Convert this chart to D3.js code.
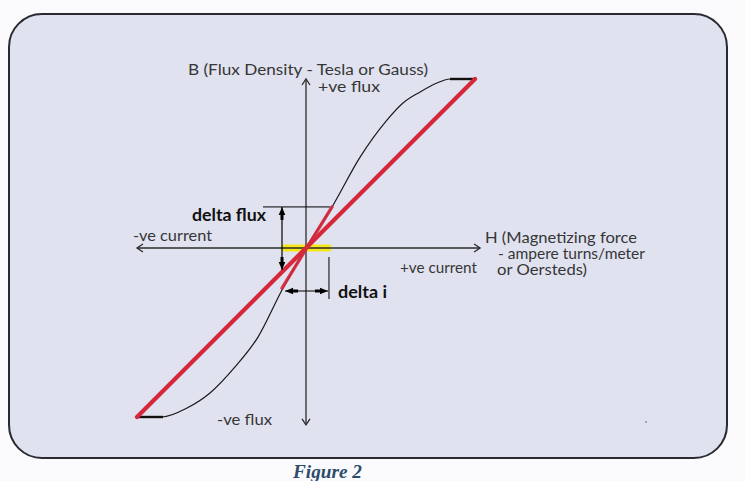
<!DOCTYPE html>
<html>
<head>
<meta charset="utf-8">
<script src="https://cdn.jsdelivr.net/npm/d3@7"></script>
<style>
  html, body { margin: 0; padding: 0; background: #fbfbfd; }
  svg { display: block; }
</style>
</head>
<body>
<svg id="chart" width="745" height="481"></svg>
<script>
// ---- data (normalised H and B, -1..1) ----
const curveH = [-1, -0.852, -0.704, -0.568, -0.420, -0.284, -0.142, 0, 0.154, 0.320, 0.479, 0.574, 0.675, 0.775, 0.852, 1];
const curveB = [-1, -1, -0.947, -0.858, -0.704, -0.527, -0.249, 0, 0.243, 0.538, 0.757, 0.858, 0.923, 0.976, 1, 1];
const saturationH = [[0.852, 1], [-1, -0.846]];
const saturationB = [1, -1];
const mainLineH = [-1, 1];
const mainLineB = [-1, 1];
const deltaLineH = [-0.142, 0.154];
const deltaLineB = [-0.237, 0.243];
const deltaFluxB = [0.243, -0.13];
const deltaIH = [-0.124, 0.130];
const yellowH = [-0.142, 0.148];
const axisH = [-1, 1.03];
const axisB = [1.0, -1.047];
const labels = {
  bAxis: "B (Flux Density - Tesla or Gauss)",
  posFlux: "+ve flux",
  negFlux: "-ve flux",
  negCurrent: "-ve current",
  posCurrent: "+ve current",
  hAxis: ["H (Magnetizing force", "- ampere turns/meter", "or Oersteds)"],
  deltaFlux: "delta flux",
  deltaI: "delta i",
  caption: "Figure 2"
};

const svg = d3.select("#chart");
const x = d3.scaleLinear().domain([-1, 1]).range([137, 475]);
const y = d3.scaleLinear().domain([-1, 1]).range([417, 79]);

// frame
svg.append("rect").attr("x", 9).attr("y", 14).attr("width", 718).attr("height", 444)
  .attr("rx", 33).attr("ry", 33)
  .attr("fill", "#e0e2f0").attr("stroke", "#2a2a30").attr("stroke-width", 2);

const line = d3.line().x(d => x(d[0])).y(d => y(d[1]));

// yellow band
svg.append("line")
  .attr("x1", x(yellowH[0])).attr("x2", x(yellowH[1]))
  .attr("y1", y(0)).attr("y2", y(0))
  .attr("stroke", "#f5e61a").attr("stroke-width", 7);

// axes
const axisColor = "#2b2b2b";
svg.append("line").attr("x1", x(axisH[0])).attr("x2", x(axisH[1])).attr("y1", y(0)).attr("y2", y(0))
  .attr("stroke", axisColor).attr("stroke-width", 1.3);
svg.append("line").attr("x1", x(0)).attr("x2", x(0)).attr("y1", y(axisB[0])).attr("y2", y(axisB[1]))
  .attr("stroke", axisColor).attr("stroke-width", 1.3);
function chevron(px, py, dx, dy) {
  const s = 6, w = 4;
  const nx = -dy, ny = dx;
  svg.append("path")
    .attr("d", `M${px - dx * s + nx * w},${py - dy * s + ny * w} L${px},${py} L${px - dx * s - nx * w},${py - dy * s - ny * w}`)
    .attr("fill", "none").attr("stroke", axisColor).attr("stroke-width", 1.3);
}
chevron(x(axisH[0]), y(0), -1, 0);
chevron(x(axisH[1]), y(0), 1, 0);
chevron(x(0), y(axisB[0]), 0, -1);
chevron(x(0), y(axisB[1]), 0, 1);

// hysteresis curve
const curvePts = curveH.map((h, i) => [h, curveB[i]]);
svg.append("path").datum(curvePts)
  .attr("d", d3.line().x(d => x(d[0])).y(d => y(d[1])).curve(d3.curveMonotoneX))
  .attr("fill", "none").attr("stroke", "#1a1a1a").attr("stroke-width", 1.2);
saturationH.forEach((hs, i) => {
  svg.append("line").attr("x1", x(hs[0])).attr("x2", x(hs[1]))
    .attr("y1", y(saturationB[i])).attr("y2", y(saturationB[i]))
    .attr("stroke", "#111").attr("stroke-width", 2.4);
});

// red lines
svg.append("path").datum(mainLineH.map((h, i) => [h, mainLineB[i]]))
  .attr("d", line).attr("stroke", "#d5283a").attr("stroke-width", 4.2)
  .attr("stroke-linecap", "round").attr("fill", "none");
svg.append("path").datum(deltaLineH.map((h, i) => [h, deltaLineB[i]]))
  .attr("d", line).attr("stroke", "#d5283a").attr("stroke-width", 3.3)
  .attr("stroke-linecap", "round").attr("fill", "none").attr("opacity", 0.92);

// delta flux annotation
svg.append("line").attr("x1", 263).attr("x2", x(0.142)).attr("y1", y(deltaFluxB[0])).attr("y2", y(deltaFluxB[0]))
  .attr("stroke", "#000").attr("stroke-width", 1);
svg.append("line").attr("x1", x(deltaLineH[0])).attr("x2", x(deltaLineH[0]))
  .attr("y1", y(deltaFluxB[0])).attr("y2", y(deltaFluxB[1]))
  .attr("stroke", "#000").attr("stroke-width", 1.2);
function filledArrow(px, py, dx, dy) {
  const len = 8, w = 3.3, shaft = 5;
  const nx = -dy, ny = dx;
  svg.append("path")
    .attr("d", `M${px},${py} L${px - dx * len + nx * w},${py - dy * len + ny * w} L${px - dx * len - nx * w},${py - dy * len - ny * w} Z`)
    .attr("fill", "#000");
  svg.append("line").attr("x1", px - dx * len).attr("y1", py - dy * len)
    .attr("x2", px - dx * (len + shaft)).attr("y2", py - dy * (len + shaft))
    .attr("stroke", "#000").attr("stroke-width", 3);
}
filledArrow(x(deltaLineH[0]), y(deltaFluxB[0]), 0, -1);
filledArrow(x(deltaLineH[0]), y(deltaFluxB[1]), 0, 1);

// delta i annotation
const yDI = 291;
svg.append("line").attr("x1", x(deltaIH[0])).attr("x2", x(deltaIH[1])).attr("y1", yDI).attr("y2", yDI)
  .attr("stroke", "#000").attr("stroke-width", 1.2);
filledArrow(x(deltaIH[0]), yDI, -1, 0);
filledArrow(x(deltaIH[1]), yDI, 1, 0);
svg.append("line").attr("x1", x(0.136)).attr("x2", x(0.136)).attr("y1", 257).attr("y2", 299)
  .attr("stroke", "#000").attr("stroke-width", 1);

// text labels
const labelFont = "Lato, 'Open Sans', sans-serif";
const tc = "#363636";
function txt(t, px, py, len, opts = {}) {
  return svg.append("text").attr("x", px).attr("y", py).text(t)
    .attr("font-family", opts.family || labelFont)
    .attr("font-size", opts.size || 15.5)
    .attr("font-weight", opts.weight || "normal")
    .attr("font-style", opts.style || "normal")
    .attr("fill", opts.fill || tc)
    .attr("textLength", len).attr("lengthAdjust", "spacingAndGlyphs");
}
txt(labels.bAxis, 188, 75, 240);
txt(labels.posFlux, 318, 92, 62);
txt(labels.negFlux, 217, 425, 55);
txt(labels.negCurrent, 133, 241, 79);
txt(labels.posCurrent, 400, 273, 77);
txt(labels.hAxis[0], 485, 243, 152, { size: 15 });
txt(labels.hAxis[1], 498, 259, 147, { size: 14.5 });
txt(labels.hAxis[2], 497, 275, 90, { size: 14.5 });
txt(labels.deltaFlux, 192, 221, 74, { family: "Lato, sans-serif", weight: "bold", size: 16.5, fill: "#111" });
txt(labels.deltaI, 338, 298, 49, { family: "Lato, sans-serif", weight: "bold", size: 16.5, fill: "#111" });
txt(labels.caption, 293, 478, 69, { family: "'Liberation Serif', serif", weight: "bold", style: "italic", size: 19.5, fill: "#2d4b6b" });

// tiny speck
svg.append("circle").attr("cx", 646).attr("cy", 422).attr("r", 0.7).attr("fill", "#334");
</script>
</body>
</html>
